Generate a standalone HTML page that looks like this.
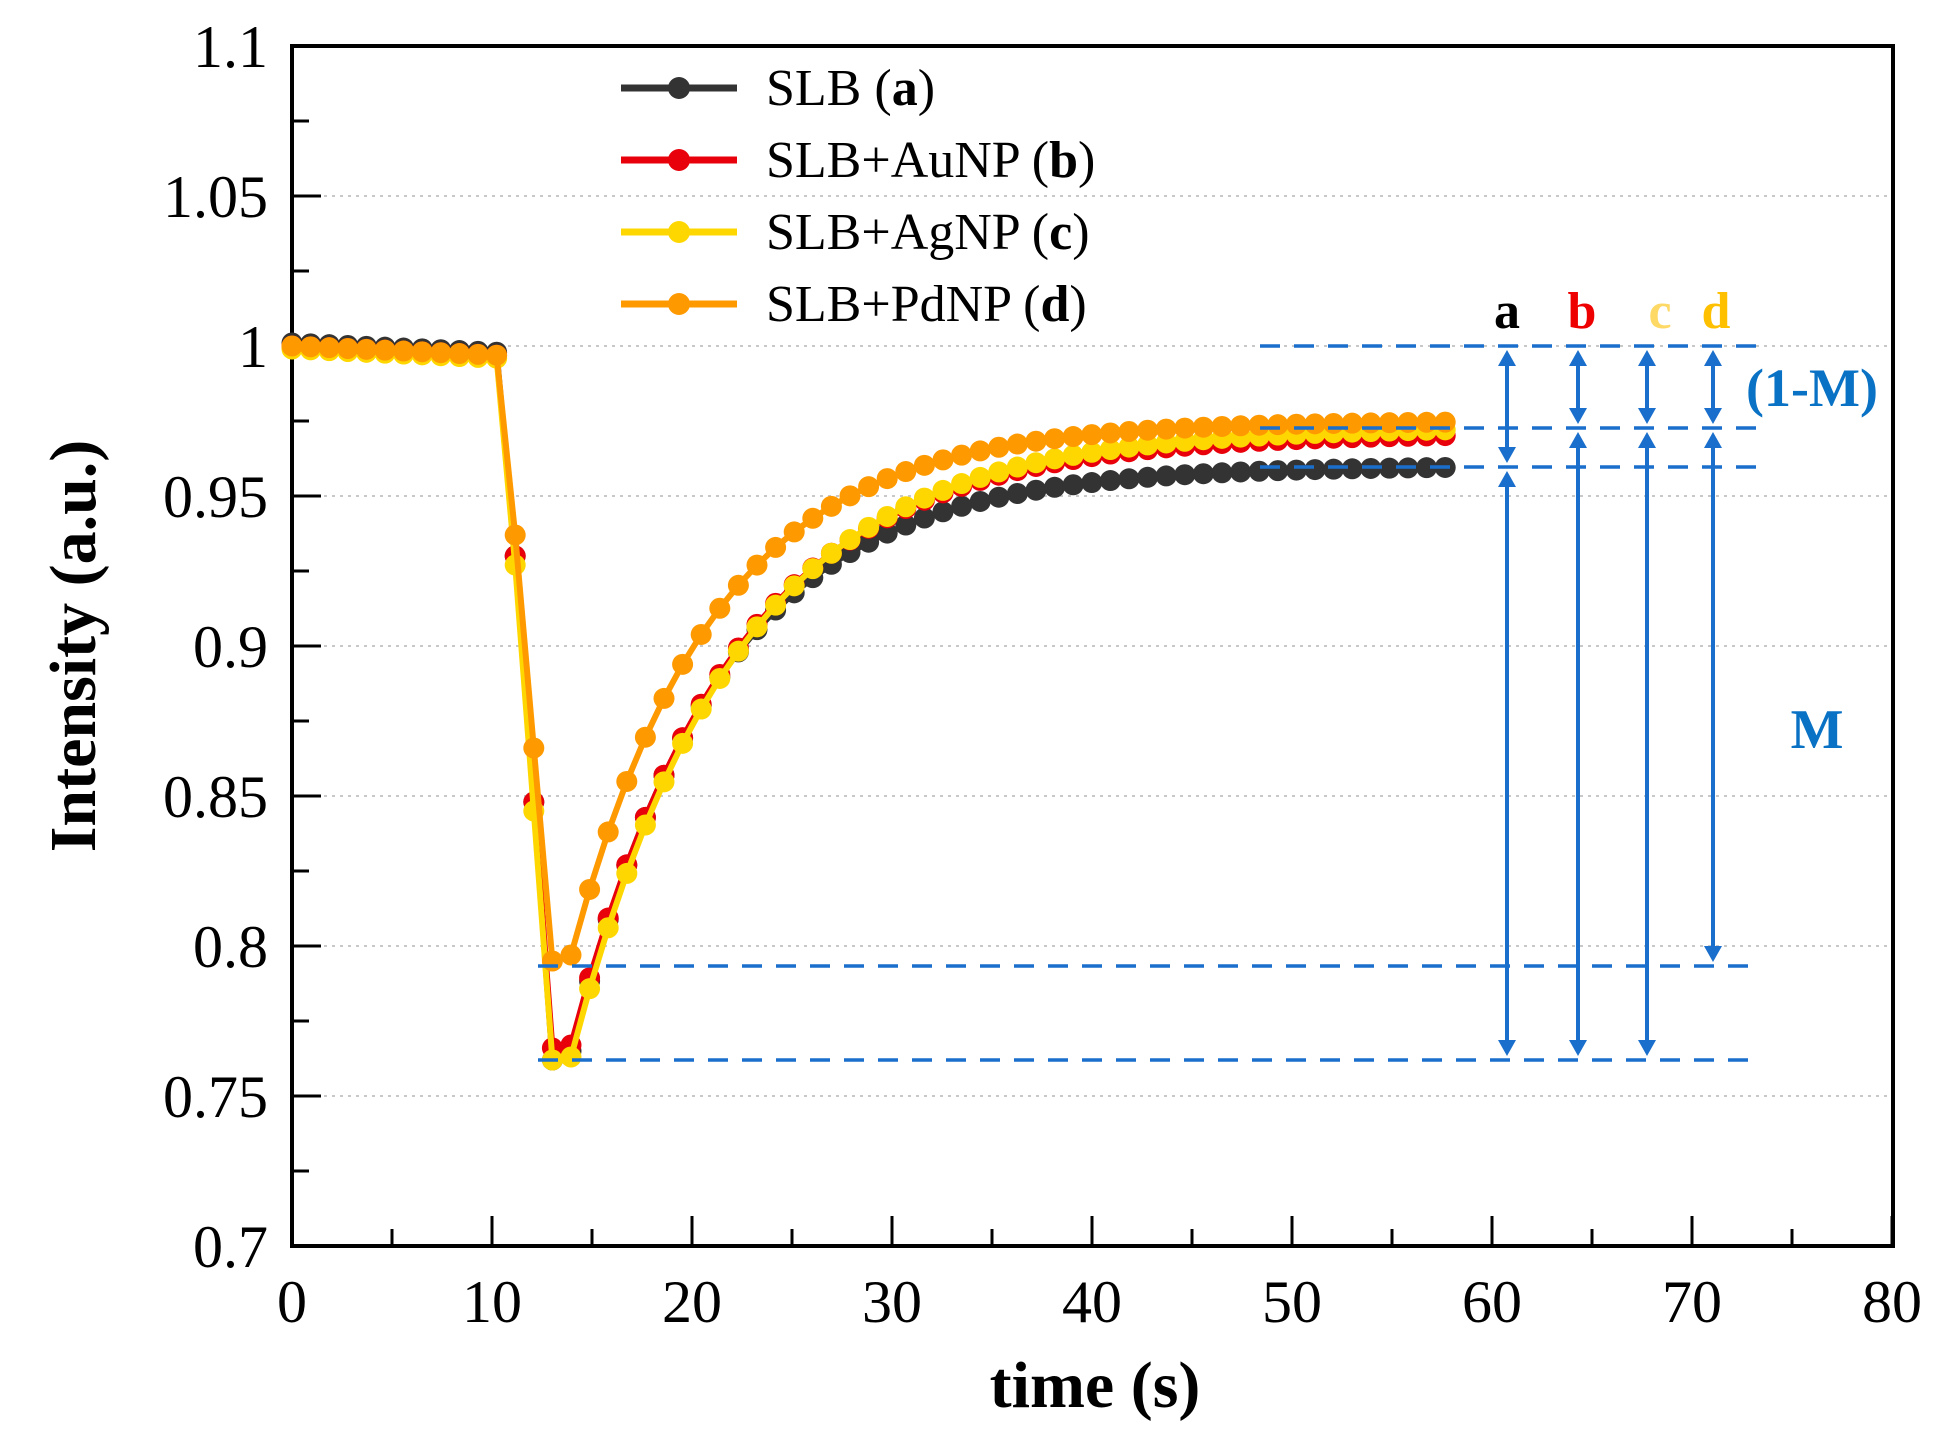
<!DOCTYPE html>
<html><head><meta charset="utf-8"><style>
html,body{margin:0;padding:0;background:#fff;}
svg{display:block;}
</style></head><body>
<svg id="s" width="1960" height="1440" xmlns="http://www.w3.org/2000/svg" font-family="Liberation Serif, serif"></svg>
<script>
const s=document.getElementById('s');
const X=t=>292+t*20, Y=v=>346-(v-1)*3000;
let h='';
[1.05,1,0.95,0.9,0.85,0.8,0.75].forEach(v=>{h+=`<line x1="292" x2="1893" y1="${Y(v)}" y2="${Y(v)}" stroke="#c8c8c8" stroke-width="2" stroke-dasharray="3,5"/>`;});
for(let i=0;i<=8;i++){const v=0.7+i*0.05;const y=Y(v);h+=`<line x1="292" x2="321" y1="${y}" y2="${y}" stroke="#000" stroke-width="3"/>`;
 if(i<8){const y2=Y(v+0.025);h+=`<line x1="292" x2="309" y1="${y2}" y2="${y2}" stroke="#000" stroke-width="3"/>`;}
 const lab=['0.7','0.75','0.8','0.85','0.9','0.95','1','1.05','1.1'][i];
 h+=`<text x="268" y="${y+21}" font-size="60" text-anchor="end" transform="translate(0,0)">${lab}</text>`;}
for(let i=0;i<=8;i++){const x=X(i*10);h+=`<line x1="${x}" x2="${x}" y1="1246" y2="1216" stroke="#000" stroke-width="3"/>`;
 if(i<8){const x2=X(i*10+5);h+=`<line x1="${x2}" x2="${x2}" y1="1246" y2="1229" stroke="#000" stroke-width="3"/>`;}
 h+=`<text x="${x}" y="1322" font-size="60" text-anchor="middle">${i*10}</text>`;}
h+=`<rect x="292" y="46" width="1601" height="1200" fill="none" stroke="#000" stroke-width="4"/>`;
h+=`<text x="1095" y="1407" font-size="66" font-weight="bold" text-anchor="middle">time (s)</text>`;
h+=`<text transform="translate(95,646) rotate(-90)" font-size="66" font-weight="bold" text-anchor="middle">Intensity (a.u.)</text>`;
const dt=0.93;
const ser=[{c:'#333333',drop:[0.93,0.848,0.762,0.765],fin:0.960,tau:7.3,s:1.001},
{c:'#e8000b',drop:[0.93,0.848,0.766,0.767],fin:0.971,tau:8.0,s:1.0},
{c:'#ffd700',drop:[0.927,0.845,0.762,0.763],fin:0.973,tau:8.1,s:0.999},
{c:'#ff9900',drop:[0.937,0.866,0.795,0.797],fin:0.975,tau:7.1,s:1.0}];
ser.forEach((o,k)=>{let pts=[];
 for(let i=0;i<=62;i++){const t=i*dt;let v;
  if(i<=11)v=o.s-0.003*t/10;
  else if(i<=15)v=o.drop[i-12];
  else{const t0=15*dt,v0=o.drop[3];v=o.fin-(o.fin-v0)*Math.exp(-(t-t0)/o.tau);}
  pts.push([X(t),Y(v)]);}
 h+=`<polyline points="${pts.map(p=>p.join(',')).join(' ')}" fill="none" stroke="${o.c}" stroke-width="6"/>`;
 pts.forEach(p=>{h+=`<circle cx="${p[0]}" cy="${p[1]}" r="10.5" fill="${o.c}"/>`;});
});
const lg=[['SLB (','a',')','#333333'],['SLB+AuNP (','b',')','#e8000b'],['SLB+AgNP (','c',')','#ffd700'],['SLB+PdNP (','d',')','#ff9900']];
lg.forEach((l,i)=>{const y=88+i*72;h+=`<line x1="621" x2="737" y1="${y}" y2="${y}" stroke="${l[3]}" stroke-width="7"/><circle cx="679" cy="${y}" r="11" fill="${l[3]}"/>`;
 h+=`<text x="766" y="${y+17}" font-size="52">${l[0]}<tspan font-weight="bold">${l[1]}</tspan>${l[2]}</text>`;});
const B='#1a6fcc';
[[346,1260],[428,1260],[467,1260],[966,538],[1060,538]].forEach(a=>{h+=`<line x1="${a[1]}" x2="1757" y1="${a[0]}" y2="${a[0]}" stroke="${B}" stroke-width="3.5" stroke-dasharray="20,14"/>`;});
function arr(x,y1,y2){h+=`<line x1="${x}" x2="${x}" y1="${y1+12}" y2="${y2-12}" stroke="${B}" stroke-width="4"/>`;
 h+=`<polygon points="${x-9},${y1+18} ${x+9},${y1+18} ${x},${y1+2}" fill="${B}"/><polygon points="${x-9},${y2-18} ${x+9},${y2-18} ${x},${y2-2}" fill="${B}"/>`;}
arr(1507,348,465);arr(1507,469,1058);
arr(1578,348,426);arr(1578,430,1058);
arr(1647,348,426);arr(1647,430,1058);
arr(1713,348,426);arr(1713,430,964);
[['a',1507,'#000'],['b',1582,'#e00'],['c',1660,'#ffd966'],['d',1716,'#ffc000']].forEach(l=>{h+=`<text x="${l[1]}" y="328" font-size="52" font-weight="bold" text-anchor="middle" fill="${l[2]}">${l[0]}</text>`;});
h+=`<text x="1812" y="406" font-size="54" font-weight="bold" text-anchor="middle" fill="#0a72c4">(1-M)</text>`;
h+=`<text x="1817" y="748" font-size="56" font-weight="bold" text-anchor="middle" fill="#0a72c4">M</text>`;
s.innerHTML=h;
</script>
</body></html>
